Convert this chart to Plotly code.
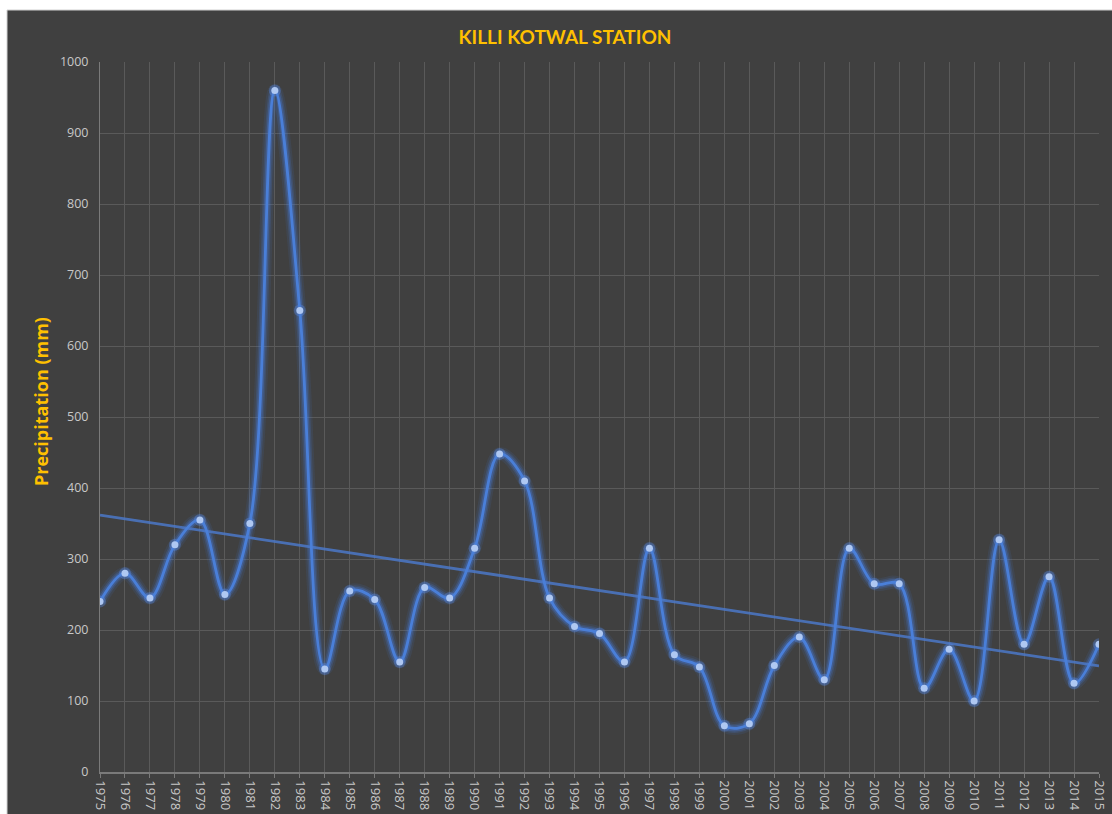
import numpy as np
import plotly.graph_objects as go

years = list(range(1975, 2016))
precip = [240, 280, 245, 320, 355, 250, 350, 960, 650, 145,
          255, 243, 155, 260, 245, 315, 448, 410, 245, 205,
          195, 155, 315, 165, 148, 65, 68, 150, 190, 130,
          315, 265, 265, 118, 173, 100, 327, 180, 275, 125, 180]
tick_labels = [str(y) for y in years]

slope, intercept = np.polyfit(years, precip, 1)
trend = [slope * y + intercept for y in years]

W, H = 1112, 814
ml, mr, mt, mb = 100, 13, 62, 42
pw, ph = W - ml - mr, H - mt - mb

def px_x(p):
    return (p - ml) / pw

def px_y(p):
    return (H - mb - p) / ph

fig = go.Figure()

line_col = "#4A7FD8"
# glow layers
for w, a in [(13, 0.10), (9, 0.18), (6, 0.30)]:
    fig.add_trace(go.Scatter(x=years, y=precip, mode="lines",
                             line=dict(color=f"rgba(70,125,230,{a})", width=w,
                                       shape="spline", smoothing=1),
                             hoverinfo="skip", showlegend=False))
fig.add_trace(go.Scatter(x=years, y=trend, mode="lines",
                         line=dict(color="rgba(75,120,200,0.85)", width=2.8),
                         showlegend=False, name="Trend"))
fig.add_trace(go.Scatter(x=years, y=precip, mode="markers",
                         marker=dict(color="rgba(90,140,235,0.35)", size=12, line=dict(width=0)),
                         hoverinfo="skip", showlegend=False))
fig.add_trace(go.Scatter(x=years, y=precip, mode="lines+markers",
                         line=dict(color=line_col, width=2.8, shape="spline", smoothing=1),
                         marker=dict(color="#AFC8F2", size=7,
                                     line=dict(width=0)),
                         showlegend=False, name="Precipitation"))

fig.add_shape(type="rect", xref="paper", yref="paper",
              x0=px_x(7), x1=px_x(W + 5), y0=px_y(H + 5), y1=px_y(10),
              fillcolor="#404040", line=dict(color="#D0D0D0", width=1),
              layer="below")

fig.add_annotation(text="<b>Precipitation (mm)</b>", textangle=-90,
                   xref="paper", yref="paper", x=px_x(41), y=px_y(402),
                   xanchor="center", yanchor="middle", showarrow=False,
                   font=dict(family="Open Sans, sans-serif", size=18, color="#FFC000"))

fig.update_layout(
    width=W, height=H,
    margin=dict(l=ml, r=mr, t=mt, b=mb, autoexpand=False),
    paper_bgcolor="white",
    plot_bgcolor="rgba(0,0,0,0)",
    title=dict(text="<b>KILLI KOTWAL STATION</b>", x=565 / W, xref="container",
               xanchor="center", y=1 - 37 / H, yanchor="middle",
               font=dict(family="Lato, Open Sans, sans-serif", size=19, color="#FFC000")),
    font=dict(family="Open Sans, sans-serif", color="#C8C8C8", size=12),
)
fig.update_xaxes(range=[1975, 2015], tickmode="array", tickvals=years,
                 ticktext=tick_labels, tickangle=90,
                 showgrid=True, gridcolor="#5A5A5A", gridwidth=1,
                 showline=True, linecolor="#7A7A7A", linewidth=1.5,
                 ticks="outside", ticklen=4, tickcolor="#7A7A7A",
                 zeroline=False, automargin=False,
                 tickfont=dict(size=13, color="#C8C8C8"))
fig.update_yaxes(range=[0, 1000], dtick=100, tick0=0,
                 showgrid=True, gridcolor="#5A5A5A", gridwidth=1,
                 showline=True, linecolor="#7A7A7A", linewidth=1,
                 zeroline=False, automargin=False, ticks="",
                 ticklabelstandoff=8,
                 tickfont=dict(size=12.5, color="#C8C8C8"))

fig.write_html("out.html")
